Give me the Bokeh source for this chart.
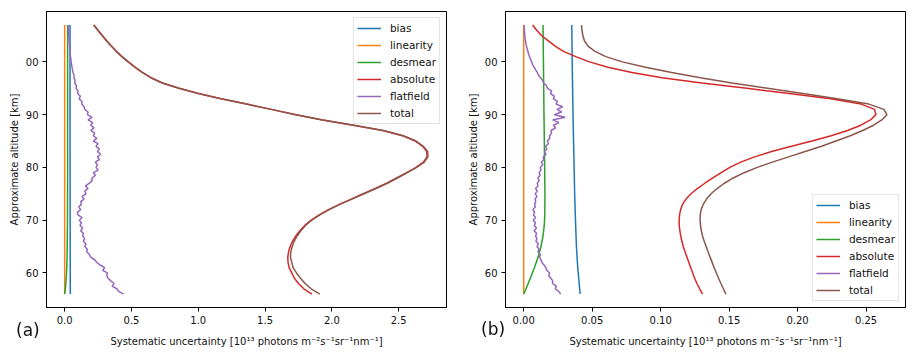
from bokeh.plotting import figure
from bokeh.layouts import row
from bokeh.models import Range1d, FixedTicker, PrintfTickFormatter, Legend, LegendItem, Div
from bokeh.embed import file_html
from bokeh.resources import INLINE

# ---------------- data ----------------
series_names = ["bias", "linearity", "desmear", "absolute", "flatfield", "total"]
series_colors = ["#1f77b4", "#ff7f0e", "#2ca02c", "#d62728", "#9467bd", "#8c564b"]

y_ticks = [60, 70, 80, 90, 100]
y_tick_labels = {100: "00"}
x_ticks_a = [0.0, 0.5, 1.0, 1.5, 2.0, 2.5]
x_ticks_b = [0.0, 0.05, 0.10, 0.15, 0.20, 0.25]

x_label = "Systematic uncertainty [10¹³ photons m⁻²s⁻¹sr⁻¹nm⁻¹]"
y_label = "Approximate altitude [km]"
panel_tags = ["(a)", "(b)"]

# altitude grids [km]
alt_smooth = list(range(56, 108))                 # 56 ... 107 km, 1 km
alt_noisy = [56 + 0.5 * i for i in range(103)]    # 56 ... 107 km, 0.5 km

# ---- panel (a) ----
alt_bias_a = [56, 70, 90, 107]
bias_a = [0.042, 0.041, 0.040, 0.040]
alt_lin_a = [56, 70, 90, 107]
linearity_a = [0.0, 0.0, 0.0, 0.0]
alt_desmear_a = [56, 57, 58, 60, 62, 65, 70, 80, 90, 100, 107]
desmear_a = [0.0, 0.005, 0.009, 0.014, 0.017, 0.019, 0.021, 0.022, 0.022, 0.022, 0.022]
absolute_a = [
    1.85, 1.79, 1.75, 1.72, 1.70, 1.68, 1.672, 1.67, 1.676, 1.688,
    1.705, 1.73, 1.76, 1.797, 1.845, 1.905, 1.975, 2.055, 2.145, 2.235,
    2.325, 2.41, 2.485, 2.56, 2.63, 2.685, 2.712, 2.71, 2.68, 2.625,
    2.53, 2.38, 2.16, 1.93, 1.73, 1.545, 1.36, 1.17, 1.00, 0.855,
    0.73, 0.645, 0.58, 0.525, 0.475, 0.428, 0.386, 0.348, 0.313, 0.28,
    0.248, 0.217]
flatfield_a = [
    0.44, 0.405, 0.39, 0.355, 0.37, 0.345, 0.325, 0.315, 0.32, 0.285,
    0.30, 0.265, 0.24, 0.225, 0.195, 0.185, 0.165, 0.17, 0.15, 0.16,
    0.14, 0.15, 0.135, 0.14, 0.12, 0.135, 0.115, 0.125, 0.11, 0.13,
    0.1, 0.095, 0.12, 0.105, 0.125, 0.12, 0.145, 0.13, 0.16, 0.15,
    0.175, 0.155, 0.185, 0.205, 0.205, 0.23, 0.215, 0.25, 0.235, 0.245,
    0.23, 0.26, 0.245, 0.27, 0.245, 0.26, 0.235, 0.25, 0.215, 0.24,
    0.215, 0.225, 0.195, 0.22, 0.195, 0.21, 0.175, 0.205, 0.17, 0.175,
    0.15, 0.145, 0.128, 0.13, 0.108, 0.118, 0.097, 0.1, 0.085, 0.088,
    0.076, 0.078, 0.069, 0.07, 0.062, 0.059, 0.055, 0.052, 0.048, 0.047,
    0.043, 0.042, 0.04, 0.038, 0.036, 0.035, 0.034, 0.032, 0.031, 0.03,
    0.028, 0.027, 0.025]
total_a = [
    1.91, 1.845, 1.80, 1.765, 1.735, 1.71, 1.70, 1.69, 1.693, 1.703,
    1.718, 1.74, 1.768, 1.802, 1.85, 1.91, 1.98, 2.06, 2.15, 2.24,
    2.33, 2.415, 2.49, 2.565, 2.635, 2.692, 2.719, 2.717, 2.685, 2.63,
    2.535, 2.385, 2.165, 1.933, 1.732, 1.547, 1.362, 1.172, 1.002, 0.857,
    0.732, 0.647, 0.582, 0.527, 0.477, 0.43, 0.388, 0.35, 0.315, 0.282,
    0.25, 0.219]

# ---- panel (b) ----
alt_bias_b = [56, 58, 60, 62, 65, 70, 75, 80, 85, 90, 95, 100, 107]
bias_b = [0.0412, 0.0405, 0.0398, 0.0392, 0.0385, 0.0378, 0.0372, 0.0368,
          0.0364, 0.0360, 0.0357, 0.0354, 0.0351]
alt_lin_b = [56, 70, 90, 107]
linearity_b = [0.0, 0.0, 0.0, 0.0]
alt_desmear_b = [56, 57.5, 59, 61, 63, 65, 67, 69, 71, 75, 80, 90, 100, 107]
desmear_b = [0.0, 0.0025, 0.0048, 0.0078, 0.0105, 0.0126, 0.0141, 0.0150,
             0.0154, 0.0155, 0.0153, 0.0148, 0.0144, 0.0141]
absolute_b = [
    0.1306, 0.1285, 0.1265, 0.1248, 0.1234, 0.122, 0.1206, 0.1192, 0.1178, 0.1165,
    0.1155, 0.1147, 0.114, 0.1136, 0.1135, 0.1138, 0.1146, 0.116, 0.1185, 0.1222,
    0.1268, 0.1323, 0.1381, 0.1442, 0.1505, 0.1585, 0.1685, 0.181, 0.1955, 0.2105,
    0.2245, 0.2365, 0.2462, 0.2532, 0.2572, 0.2562, 0.2465, 0.224, 0.194, 0.163,
    0.13, 0.101, 0.079, 0.0615, 0.048, 0.038, 0.029, 0.023, 0.018, 0.013,
    0.0095, 0.0065]
flatfield_b = [
    0.027, 0.0255, 0.023, 0.0238, 0.021, 0.0212, 0.0198, 0.0182, 0.019, 0.0168,
    0.0162, 0.0148, 0.0133, 0.0126, 0.0115, 0.0122, 0.0103, 0.0112, 0.0097, 0.0108,
    0.0089, 0.0096, 0.0087, 0.0094, 0.0076, 0.0093, 0.0077, 0.0086, 0.0069, 0.0087,
    0.0071, 0.008, 0.0067, 0.0084, 0.008, 0.0088, 0.0083, 0.0097, 0.0084, 0.0099,
    0.0087, 0.0104, 0.0099, 0.0113, 0.0103, 0.0119, 0.0113, 0.0126, 0.0121, 0.0139,
    0.0129, 0.0147, 0.0143, 0.0163, 0.0151, 0.0169, 0.016, 0.0181, 0.0173, 0.019,
    0.0189, 0.0203, 0.0199, 0.0233, 0.0216, 0.0257, 0.0211, 0.0302, 0.0224, 0.0277,
    0.0243, 0.0284, 0.0236, 0.0247, 0.0217, 0.0223, 0.0196, 0.0204, 0.0173, 0.0166,
    0.0146, 0.0137, 0.0123, 0.0107, 0.0099, 0.0087, 0.0076, 0.0065, 0.0058, 0.005,
    0.0042, 0.0036, 0.003, 0.0025, 0.002, 0.0016, 0.0013, 0.001, 0.0008, 0.0006,
    0.0005, 0.0004, 0.0003]
total_b = [
    0.1477, 0.1458, 0.144, 0.1423, 0.1407, 0.1391, 0.1376, 0.1361, 0.1346, 0.1332,
    0.1318, 0.1306, 0.1297, 0.1291, 0.1288, 0.1289, 0.1296, 0.1311, 0.1335, 0.1368,
    0.1412, 0.1465, 0.153, 0.161, 0.1705, 0.1815, 0.1935, 0.2055, 0.2175, 0.228,
    0.2385, 0.2475, 0.2555, 0.2615, 0.2652, 0.263, 0.252, 0.229, 0.204, 0.178,
    0.152, 0.129, 0.108, 0.089, 0.072, 0.060, 0.052, 0.047, 0.0443, 0.0432,
    0.0425, 0.0422]

FONT = "DejaVu Sans"


def make_panel(width, border_left, border_right, x_range, x_ticks, x_fmt,
               series, legend_loc):
    p = figure(width=width, height=358, output_backend="svg", toolbar_location=None,
               x_range=Range1d(*x_range), y_range=Range1d(53.45, 109.55),
               min_border_left=border_left, min_border_right=border_right,
               min_border_top=11, min_border_bottom=51)
    p.grid.visible = False
    p.background_fill_color = "white"
    p.border_fill_color = "white"
    p.outline_line_color = "black"
    p.outline_line_alpha = 1.0
    p.outline_line_width = 1

    p.xaxis.ticker = FixedTicker(ticks=x_ticks)
    p.xaxis.formatter = PrintfTickFormatter(format=x_fmt)
    p.yaxis.ticker = FixedTicker(ticks=y_ticks)
    p.yaxis.major_label_overrides = y_tick_labels
    p.xaxis.axis_label = x_label
    p.yaxis.axis_label = y_label
    for ax in p.axis:
        ax.major_tick_out = 4
        ax.major_tick_in = 0
        ax.minor_tick_line_color = None
        ax.major_tick_line_color = "black"
        ax.axis_line_color = "black"
        ax.major_label_text_font = FONT
        ax.major_label_text_font_size = "10px"
        ax.major_label_text_color = "#111111"
        ax.axis_label_text_font = FONT
        ax.axis_label_text_font_size = "10px"
        ax.axis_label_text_font_style = "normal"
        ax.axis_label_text_color = "#111111"
        ax.major_label_standoff = 4
    p.xaxis.axis_label_standoff = 9
    p.yaxis.axis_label_standoff = 3

    items = []
    for (name, color, (xs, ys)) in zip(series_names, series_colors, series):
        r = p.line(xs, ys, line_color=color, line_width=1.5)
        items.append(LegendItem(label=name, renderers=[r]))

    legend = Legend(items=items, location=legend_loc, margin=6, padding=3,
                    spacing=3, label_height=14, glyph_height=14, glyph_width=24,
                    label_standoff=9, label_text_font=FONT,
                    label_text_font_size="10.5px", label_text_color="#111111",
                    border_line_color="#cccccc", border_line_width=1,
                    background_fill_color="white", background_fill_alpha=0.8)
    p.add_layout(legend)
    return p


series_a = [(bias_a, alt_bias_a), (linearity_a, alt_lin_a), (desmear_a, alt_desmear_a),
            (absolute_a, alt_smooth), (flatfield_a, alt_noisy), (total_a, alt_smooth)]
series_b = [(bias_b, alt_bias_b), (linearity_b, alt_lin_b), (desmear_b, alt_desmear_b),
            (absolute_b, alt_smooth), (flatfield_b, alt_noisy), (total_b, alt_smooth)]

pa = make_panel(459, 46, 13, (-0.136, 2.858), x_ticks_a, "%.1f", series_a, "top_right")
pb = make_panel(456, 46, 10, (-0.0133, 0.2788), x_ticks_b, "%.2f", series_b, "bottom_right")

# panel tags "(a)" / "(b)" drawn as page-level text over the figures
tag_style = ("position:fixed;z-index:10;font-family:'DejaVu Sans';font-size:17px;"
             "line-height:17px;color:#111111;white-space:nowrap;")
tags_html = (
    f'<span style="{tag_style}left:16px;top:322px;">{panel_tags[0]}</span>'
    f'<span style="{tag_style}left:481px;top:321px;">{panel_tags[1]}</span>'
)
tags = Div(text=tags_html, width=1, height=1, margin=(0, 0, 0, 0))

layout = row(pa, pb, tags)
open("out.html", "w").write(file_html(layout, INLINE))
